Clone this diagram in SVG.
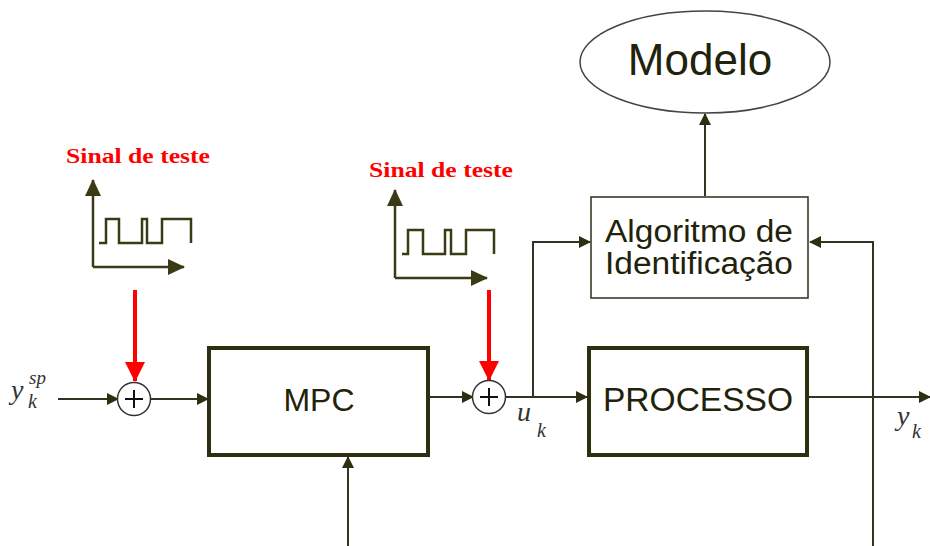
<svg xmlns="http://www.w3.org/2000/svg" width="930" height="546" viewBox="0 0 930 546">
  <style>
    .box { fill: #ffffff; stroke: #2e2e10; stroke-width: 4; }
    .thin { fill: #ffffff; stroke: #3a3a2a; stroke-width: 1.6; }
    .wire { fill: none; stroke: #333322; stroke-width: 2; }
    .axis { fill: none; stroke: #3a3a14; stroke-width: 2.5; }
    .wave { fill: none; stroke: #3a3a14; stroke-width: 2.5; }
    .red { fill: none; stroke: #ff0000; stroke-width: 4; }
    .lbl { font-family: "Liberation Sans", Arial, sans-serif; fill: #22220a; }
    .math { font-family: "Liberation Serif", "Times New Roman", serif; font-style: italic; fill: #333333; }
    .test { font-family: "Liberation Serif", "Times New Roman", serif; font-weight: bold; font-size: 21px; fill: #ff0000; }
  </style>
  <defs>
    <marker id="arr" markerUnits="userSpaceOnUse" markerWidth="12" markerHeight="12" refX="11" refY="6" orient="auto">
      <path d="M0,0 L12,6 L0,12 Z" fill="#2e2e10"/>
    </marker>
    <marker id="arrBig" markerUnits="userSpaceOnUse" markerWidth="17" markerHeight="16" refX="16" refY="8" orient="auto">
      <path d="M0,0 L17,8 L0,16 Z" fill="#3a3a14"/>
    </marker>
    <marker id="arrRed" markerUnits="userSpaceOnUse" markerWidth="20" markerHeight="20" refX="19" refY="10" orient="auto">
      <path d="M0,0 L20,10 L0,20 Z" fill="#ff0000"/>
    </marker>
  </defs>

  <rect width="930" height="546" fill="#ffffff"/>

  <!-- connectors -->
  <g id="connectors">
    <line class="wire" x1="58" y1="399" x2="118" y2="399" marker-end="url(#arr)"/>
    <line class="wire" x1="151" y1="399" x2="208" y2="399" marker-end="url(#arr)"/>
    <line class="wire" x1="430" y1="397" x2="473" y2="397" marker-end="url(#arr)"/>
    <line class="wire" x1="506" y1="397" x2="587" y2="397" marker-end="url(#arr)"/>
    <polyline class="wire" points="533,397 533,242 590,242" marker-end="url(#arr)"/>
    <line class="wire" x1="809" y1="397" x2="930" y2="397" marker-end="url(#arr)"/>
    <polyline class="wire" points="873,546 873,242 810,242" marker-end="url(#arr)"/>
    <line class="wire" x1="705" y1="196" x2="705" y2="114" marker-end="url(#arr)"/>
    <line class="wire" x1="348" y1="546" x2="348" y2="457" marker-end="url(#arr)"/>
    <line class="red" x1="135" y1="290" x2="135" y2="381" marker-end="url(#arrRed)"/>
    <line class="red" x1="489" y1="290" x2="489" y2="380" marker-end="url(#arrRed)"/>
  </g>

  <!-- test signal 1 -->
  <g id="test1">
    <text class="test" x="66" y="163" textLength="144" lengthAdjust="spacingAndGlyphs">Sinal de teste</text>
    <line class="axis" x1="93" y1="267" x2="93" y2="180" marker-end="url(#arrBig)"/>
    <line class="axis" x1="93" y1="267" x2="184" y2="267" marker-end="url(#arrBig)"/>
    <polyline class="wave" points="99,243 106,243 106,219 119,219 119,243 142,243 142,219 147,219 147,243 162,243 162,219 191,219 191,243"/>
  </g>

  <!-- test signal 2 -->
  <g id="test2">
    <text class="test" x="369" y="177" textLength="144" lengthAdjust="spacingAndGlyphs">Sinal de teste</text>
    <line class="axis" x1="395" y1="278" x2="395" y2="190" marker-end="url(#arrBig)"/>
    <line class="axis" x1="395" y1="278" x2="487" y2="278" marker-end="url(#arrBig)"/>
    <polyline class="wave" points="402,254 408,254 408,230 423,230 423,254 445,254 445,230 451,230 451,254 466,254 466,230 494,230 494,254"/>
  </g>

  <!-- summing junctions -->
  <g id="sum1">
    <circle cx="134" cy="399" r="16.5" fill="#ffffff" stroke="#333333" stroke-width="1.5"/>
    <path d="M125,399 H143 M134,390 V408" stroke="#111111" stroke-width="2" fill="none"/>
  </g>
  <g id="sum2">
    <circle cx="489" cy="397" r="16.5" fill="#ffffff" stroke="#333333" stroke-width="1.5"/>
    <path d="M480,397 H498 M489,388 V406" stroke="#111111" stroke-width="2" fill="none"/>
  </g>

  <!-- MPC -->
  <g id="mpc">
    <rect class="box" x="209" y="348" width="219" height="107"/>
    <text class="lbl" x="319" y="411" font-size="32" text-anchor="middle">MPC</text>
  </g>

  <!-- PROCESSO -->
  <g id="processo">
    <rect class="box" x="589" y="348" width="218" height="107"/>
    <text class="lbl" x="603" y="411" font-size="33" textLength="190" lengthAdjust="spacingAndGlyphs">PROCESSO</text>
  </g>

  <!-- identification algorithm -->
  <g id="algoritmo">
    <rect class="thin" x="591" y="197" width="217" height="101"/>
    <text class="lbl" x="605" y="242" font-size="31" textLength="188" lengthAdjust="spacingAndGlyphs">Algoritmo de</text>
    <text class="lbl" x="605" y="274" font-size="31" textLength="188" lengthAdjust="spacingAndGlyphs">Identificação</text>
  </g>

  <!-- model -->
  <g id="modelo">
    <ellipse cx="705" cy="62" rx="125" ry="51" fill="#ffffff" stroke="#444444" stroke-width="1.5"/>
    <text class="lbl" x="700" y="75" font-size="44" text-anchor="middle">Modelo</text>
  </g>

  <!-- signal labels -->
  <g id="labels">
    <text class="math" x="11" y="399" font-size="28">y</text>
    <text class="math" x="29" y="384" font-size="19">sp</text>
    <text class="math" x="28" y="408" font-size="20">k</text>
    <text class="math" x="517" y="421" font-size="28">u</text>
    <text class="math" x="537" y="437" font-size="20">k</text>
    <text class="math" x="897" y="425" font-size="28">y</text>
    <text class="math" x="912" y="438" font-size="20">k</text>
  </g>
</svg>
